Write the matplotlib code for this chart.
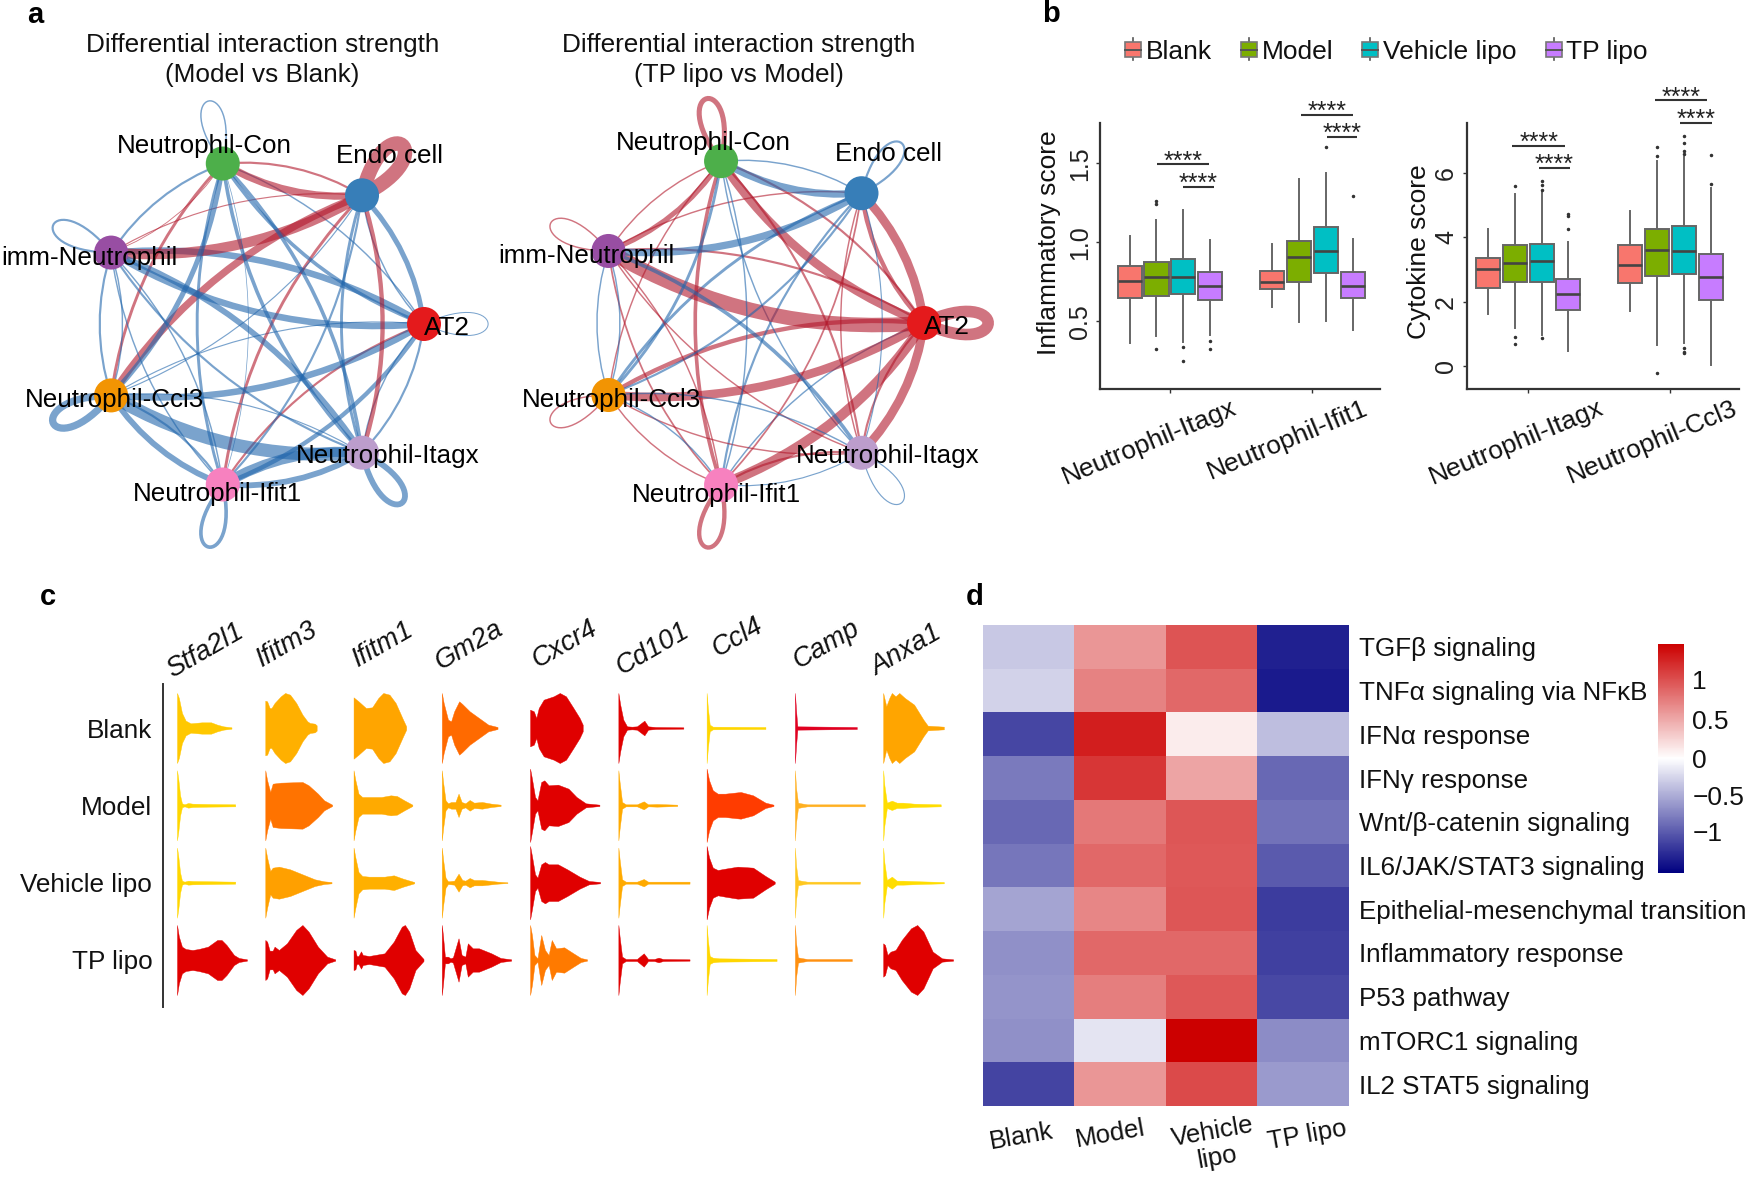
import numpy as np
import matplotlib
matplotlib.use("Agg")
import matplotlib.pyplot as plt
from matplotlib.path import Path
from matplotlib.patches import PathPatch, Circle, Rectangle
from matplotlib.colors import LinearSegmentedColormap, TwoSlopeNorm

plt.rcParams['font.family'] = ['Liberation Sans', 'DejaVu Sans']

# ---------- data ----------
cell_types = ['AT2', 'Endo cell', 'Neutrophil-Con', 'imm-Neutrophil', 'Neutrophil-Ccl3', 'Neutrophil-Ifit1', 'Neutrophil-Itagx']
node_colors = ['#E41A1C', '#377EB8', '#4DAF4A', '#984EA3', '#F29403', '#F781BF', '#BC9DCC']
# signed strength: row -> column; positive = increased (red), negative = decreased (blue)
strength_model_blank = [
    [-0.7, -3.5, -1.0, -4.5, -0.8, 1.5, -1.0],
    [-1.0, 10.0, 1.5, 0.8, 5.0, 2.0, -2.0],
    [-2.5, 5.0, -1.0, -1.5, 2.0, -2.0, -2.5],
    [-4.5, 7.0, 0.6, -1.5, -1.5, -1.0, -1.5],
    [-4.5, -0.8, -3.5, -1.0, -5.0, -4.0, -9.0],
    [-3.0, -1.5, -0.5, -1.0, -1.5, -2.5, -4.0],
    [-1.5, 3.0, -2.5, -4.0, -0.8, -7.0, -4.0],
]
strength_tp_model = [
    [8.0, 6.0, 1.5, 1.5, 3.0, -1.0, 1.5],
    [3.0, -1.5, -1.0, 1.0, -2.0, -1.5, 1.0],
    [6.0, -5.0, 3.5, 1.0, 1.0, 2.5, -1.0],
    [10.0, -5.0, 3.5, 1.0, -1.0, 1.2, 1.0],
    [6.0, -1.5, -2.0, -1.0, 1.0, 1.0, 1.0],
    [7.0, 1.2, -1.0, 1.0, -1.0, 3.0, -0.8],
    [6.0, -0.8, 1.5, -2.5, -1.0, 1.5, -0.8],
]

groups = ['Blank', 'Model', 'Vehicle lipo', 'TP lipo']
box_colors = ['#F8766D', '#7CAE00', '#00BFC4', '#C77CFF']
infl_categories = ['Neutrophil-Itagx', 'Neutrophil-Ifit1']
infl_whislo = [.363, .41, .368, .416, .59, .498, .50, .447]
infl_q1 = [.651, .658, .674, .634, .704, .748, .809, .651]
infl_med = [.756, .784, .779, .725, .752, .908, .945, .725]
infl_q3 = [.851, .878, .893, .811, .821, 1.01, 1.097, .813]
infl_whishi = [1.04, 1.14, 1.204, 1.015, .987, 1.403, 1.44, 1.019]
infl_fliers = [[], [.328, 1.26, 1.24], [.336, .252], [.374, .328], [], [], [1.603], [1.294]]
infl_sig = [(.909, 1.273, 1.492), (1.094, 1.306, 1.351), (1.917, 2.285, 1.807), (2.099, 2.314, 1.666)]
cyto_categories = ['Neutrophil-Itagx', 'Neutrophil-Ccl3']
cyto_whislo = [1.62, 1.19, .98, .49, 1.72, .65, .72, .03]
cyto_q1 = [2.43, 2.63, 2.63, 1.74, 2.57, 2.79, 2.87, 2.05]
cyto_med = [3.03, 3.22, 3.27, 2.25, 3.15, 3.61, 3.57, 2.78]
cyto_q3 = [3.36, 3.75, 3.78, 2.71, 3.76, 4.27, 4.34, 3.47]
cyto_whishi = [4.27, 5.36, 5.44, 3.85, 4.81, 6.37, 6.49, 5.52]
cyto_fliers = [[], [.91, .69, 5.6], [.88, 5.74, 5.62, 5.46], [4.25, 4.74, 4.66], [],
               [-.19, 6.8, 6.53], [.57, .46, .43, 7.13, 6.93, 6.68, 6.6], [6.54, 5.65]]
cyto_sig = [(.889, 1.261, 6.845), (1.075, 1.293, 6.155), (1.889, 2.257, 8.247), (2.068, 2.29, 7.546)]

genes = ['Stfa2l1', 'Ifitm3', 'Ifitm1', 'Gm2a', 'Cxcr4', 'Cd101', 'Ccl4', 'Camp', 'Anxa1']
# per gene, per group: (expression, density) outline points
violin_Stfa2l1 = [
    [(0,105),(3,90),(8,45),(14,22),(22,14),(40,17),(55,17),(65,10),(75,5),(88,2)],
    [(0,105),(2,80),(5,30),(8,6),(12,3),(18,7),(25,5),(50,4),(94,3)],
    [(0,105),(2,80),(5,30),(8,6),(12,3),(18,6),(25,5),(94,3)],
    [(0,105),(3,70),(8,40),(14,33),(25,30),(35,33),(50,40),(65,60),(72,60),(80,45),(92,15),(100,6),(113,2)]]
violin_Ifitm3 = [
    [(0,82),(3,80),(7,60),(10,60),(15,75),(25,95),(32,105),(40,100),(50,75),(60,40),(68,20),(72,15),(80,13),(83,8)],
    [(0,105),(3,75),(8,40),(12,65),(25,68),(60,70),(70,60),(85,35),(95,15),(105,5),(108,2)],
    [(0,105),(3,75),(8,35),(12,45),(22,48),(40,40),(60,25),(80,10),(95,4),(107,2)],
    [(0,60),(3,55),(7,28),(12,28),(15,40),(22,30),(35,50),(50,90),(60,105),(70,85),(85,40),(100,10),(113,2)]]
violin_Ifitm1 = [
    [(0,92),(8,80),(20,60),(30,62),(40,90),(48,105),(58,100),(68,75),(80,25),(85,5)],
    [(0,105),(3,75),(8,35),(14,25),(25,25),(45,25),(60,30),(70,28),(82,15),(95,2)],
    [(0,105),(3,75),(8,32),(14,20),(25,18),(50,18),(65,22),(80,12),(98,2)],
    [(0,30),(3,28),(5,12),(8,12),(12,26),(15,15),(25,12),(50,20),(65,55),(78,100),(83,105),(90,85),(100,30),(113,3)]]
violin_Gm2a = [
    [(0,105),(3,75),(10,25),(15,20),(20,50),(28,80),(33,72),(45,50),(60,30),(75,10),(90,3)],
    [(0,105),(2,70),(6,15),(10,6),(15,10),(22,10),(27,35),(32,10),(38,6),(45,16),(52,8),(65,10),(80,5),(95,2)],
    [(0,105),(2,70),(6,15),(10,4),(20,6),(27,27),(33,8),(38,6),(45,14),(52,8),(65,8),(90,3),(106,1)],
    [(0,105),(2,70),(5,10),(10,10),(14,5),(18,8),(27,65),(32,15),(38,10),(42,50),(50,35),(60,35),(80,20),(95,6),(112,2)]]
violin_Cxcr4 = [
    [(0,55),(6,50),(10,30),(14,60),(22,85),(30,90),(38,95),(48,105),(58,95),(70,60),(80,30),(85,10)],
    [(0,110),(3,80),(8,25),(12,15),(18,70),(23,75),(30,60),(45,62),(62,50),(75,25),(90,6),(112,2)],
    [(0,110),(3,80),(8,25),(12,15),(18,55),(24,62),(30,55),(45,55),(60,40),(80,18),(95,5),(113,2)],
    [(0,105),(3,75),(7,15),(12,5),(18,75),(24,30),(30,15),(35,60),(42,35),(55,38),(70,20),(82,6),(92,2)]]
violin_Cd101 = [
    [(0,105),(3,70),(8,25),(14,5),(22,4),(30,5),(42,22),(48,5),(60,3),(105,2)],
    [(0,105),(2,70),(6,10),(12,3),(30,3),(41,12),(48,3),(62,4),(95,2)],
    [(0,105),(2,70),(6,10),(12,3),(30,3),(41,11),(48,3),(60,3),(115,3)],
    [(0,105),(2,70),(6,10),(12,3),(30,3),(41,20),(48,3),(58,3),(65,7),(72,3),(115,2)]]
violin_Ccl4 = [
    [(0,105),(2,60),(5,10),(10,4),(95,3)],
    [(0,110),(4,75),(10,45),(18,35),(30,35),(55,40),(75,30),(95,8),(108,2)],
    [(0,110),(4,75),(10,45),(18,38),(30,42),(50,48),(75,45),(95,20),(110,3)],
    [(0,105),(2,60),(5,12),(10,7),(20,5),(113,3)]]
violin_Camp = [
    [(0,105),(2,50),(4,5),(100,3)],
    [(0,105),(2,50),(5,8),(10,6),(20,3),(113,3)],
    [(0,105),(2,50),(5,8),(10,6),(20,3),(105,3)],
    [(0,105),(2,50),(5,8),(10,6),(20,3),(92,3)]]
violin_Anxa1 = [
    [(0,105),(5,65),(10,90),(14,105),(20,95),(26,105),(35,90),(50,70),(65,25),(72,7),(98,4)],
    [(0,105),(2,60),(6,8),(14,14),(22,8),(32,8),(50,5),(93,3)],
    [(0,105),(2,60),(6,8),(14,18),(22,6),(32,6),(60,4),(98,2)],
    [(0,50),(3,45),(7,15),(12,25),(20,30),(30,60),(45,95),(55,105),(65,85),(80,25),(95,5),(113,2)]]
violin_profiles = [violin_Stfa2l1, violin_Ifitm3, violin_Ifitm1, violin_Gm2a, violin_Cxcr4,
                   violin_Cd101, violin_Ccl4, violin_Camp, violin_Anxa1]
violin_colors = [
    ['#FFC800', '#FFB000', '#FFA500', '#FF6A00', '#E00000', '#E00000', '#FFD600', '#E00020', '#FFA500'],
    ['#FFD600', '#FF7300', '#FFAA00', '#FFAA00', '#E00000', '#FFAA00', '#FF3C00', '#FFB020', '#FFDD00'],
    ['#FFD600', '#FFA000', '#FFB000', '#FFAA00', '#E00000', '#FFAA00', '#E00000', '#FFC820', '#FFDD00'],
    ['#E00000', '#E00000', '#E00000', '#E00000', '#FF7A00', '#E00000', '#FFD600', '#FF9010', '#E00000'],
]

pathways = ['TGFβ signaling', 'TNFα signaling via NFκB', 'IFNα response', 'IFNγ response',
            'Wnt/β-catenin signaling', 'IL6/JAK/STAT3 signaling', 'Epithelial-mesenchymal transition',
            'Inflammatory response', 'P53 pathway', 'mTORC1 signaling', 'IL2 STAT5 signaling']
heat_columns = ['Blank', 'Model', 'Vehicle\nlipo', 'TP lipo']
heat_blank = [-.34, -.27, -1.12, -.81, -.92, -.83, -.55, -.67, -.65, -.68, -1.14]
heat_model = [.60, .72, 1.29, 1.15, .77, .86, .69, .86, .74, -.16, .60]
heat_vehicle = [.98, .86, .11, .52, .97, .95, .97, .86, .96, 1.46, 1.03]
heat_tp = [-1.36, -1.39, -.40, -.92, -.86, -1.0, -1.19, -1.16, -1.11, -.70, -.61]

# ---------- layout helpers ----------
W, H = 1747, 1178
fig = plt.figure(figsize=(W / 100, H / 100), dpi=100, facecolor='white')

def ax_px(l, t, r, b, **kw):
    return fig.add_axes([l / W, 1 - b / H, (r - l) / W, (b - t) / H], **kw)

ov = fig.add_axes([0, 0, 1, 1], zorder=5)
ov.set_xlim(0, W); ov.set_ylim(H, 0); ov.axis('off'); ov.patch.set_alpha(0)

PX = 72 / 100 * 1.45
RED, BLUE = '#B2182B', '#2166AC'

label_offsets = [(23, 4), (27, -39), (-18, -18), (-22, 5), (3, 5), (-5, 10), (26, 3)]

def network(cx, cy, r, strength, title):
    strength = np.array(strength, float)
    n = len(cell_types)
    ang = 2 * np.pi * np.arange(n) / n
    xy = np.c_[cx + r * np.cos(ang), cy - r * np.sin(ang)]
    for i in range(n):
        for j in range(n):
            v = strength[i, j]
            if v == 0:
                continue
            col = RED if v > 0 else BLUE
            if i == j:
                u = np.array([np.cos(ang[i]), -np.sin(ang[i])])
                p = np.array([-u[1], u[0]])
                L = 57
                c1 = xy[i] + L * 1.5 * u + 40 * p
                c2 = xy[i] + L * 1.5 * u - 40 * p
                path = Path([xy[i], c1, c2, xy[i]], [Path.MOVETO, Path.CURVE4, Path.CURVE4, Path.CURVE4])
            else:
                d = xy[j] - xy[i]
                ctrl = (xy[i] + xy[j]) / 2 + 0.16 * np.array([-d[1], d[0]])
                path = Path([xy[i], ctrl, xy[j]], [Path.MOVETO, Path.CURVE3, Path.CURVE3])
            ov.add_patch(PathPatch(path, fc='none', ec=col, lw=abs(v) * PX, alpha=0.6, capstyle='butt', zorder=2))
    for i in range(n):
        ov.add_patch(Circle(xy[i], 17, fc=node_colors[i], ec='none', zorder=3))
        ov.text(xy[i, 0] + label_offsets[i][0], xy[i, 1] + label_offsets[i][1], cell_types[i],
                fontsize=18.7, ha='center', va='center', color='black', zorder=4)
    ov.text(cx + 3 - (0 if cx < 500 else 22), 60, title, fontsize=18.8, ha='center', va='center',
            linespacing=1.3, color='#111111')

network(259.4, 324, 164.6, strength_model_blank, 'Differential interaction strength\n(Model vs Blank)')
network(758, 323, 166, strength_tp_model, 'Differential interaction strength\n(TP lipo vs Model)')

# ---------- boxplots ----------
def boxes(rect, ylim, xlim, cats, lo, q1, med, q3, hi, fliers, sig, yticks, yticklabels, ylabel, lab_xy, cat_dx):
    ax = ax_px(*rect)
    n = len(lo)
    stats, pos = [], []
    for k in range(n):
        stats.append(dict(whislo=lo[k], q1=q1[k], med=med[k], q3=q3[k], whishi=hi[k], fliers=fliers[k]))
        pos.append((k // 4 + 1) + (k % 4 - 1.5) * 0.189)
    b = ax.bxp(stats, positions=pos, widths=0.169, patch_artist=True, showcaps=False, manage_ticks=False,
               flierprops=dict(marker='o', ms=1.5, mfc='#333333', mec='#333333', ls='none'),
               boxprops=dict(edgecolor='#666666', lw=1.4), whiskerprops=dict(color='#666666', lw=1.4),
               medianprops=dict(color='#444444', lw=1.9))
    for k, p in enumerate(b['boxes']):
        p.set_facecolor(box_colors[k % 4])
    ax.set_xlim(*xlim); ax.set_ylim(*ylim)
    for s in ('top', 'right'):
        ax.spines[s].set_visible(False)
    for s in ('left', 'bottom'):
        ax.spines[s].set_linewidth(1.6); ax.spines[s].set_color('#333333')
    ax.set_yticks(yticks); ax.set_yticklabels(yticklabels, rotation=90, va='center', fontsize=18, color='#222222')
    ax.set_xticks([1, 2]); ax.set_xticklabels([])
    ax.tick_params(length=3, width=1, color='#333333', pad=3)
    ax.set_ylabel(ylabel, fontsize=19, color='#111111')
    ax.yaxis.set_label_coords(*lab_xy)
    for c, cat in enumerate(cats):
        ax.annotate(cat, xy=(c + 1, 0), xycoords=ax.get_xaxis_transform(), xytext=(cat_dx[c], -7),
                    textcoords='offset pixels', rotation=22.5, ha='right', va='top',
                    rotation_mode='anchor', fontsize=19, color='#111111', annotation_clip=False)
    for x0, x1, y in sig:
        ax.plot([x0, x1], [y, y], color='#333333', lw=1.5, clip_on=False, solid_capstyle='butt')
        ax.annotate('****', xy=((x0 + x1) / 2, y), xytext=(0, -9), textcoords='offset pixels', ha='center',
                    va='bottom', fontsize=18, color='#222222', annotation_clip=False)
    return ax

boxes((1100, 123, 1380, 389), (0.0735, 1.754), (0.509, 2.474), infl_categories, infl_whislo, infl_q1, infl_med,
      infl_q3, infl_whishi, infl_fliers, infl_sig, [0.5, 1.0, 1.5], ['0.5', '1.0', '1.5'], 'Inflammatory score',
      (-0.139, 0.549), (61, 50))
boxes((1466.5, 123, 1738.6, 389), (-0.701, 7.546), (0.567, 2.48), cyto_categories, cyto_whislo, cyto_q1, cyto_med,
      cyto_q3, cyto_whishi, cyto_fliers, cyto_sig, [0, 2, 4, 6], ['0', '2', '4', '6'], 'Cytokine score',
      (-0.13, 0.515), (70, 61))

# legend
for g, c, kx, tx in zip(groups, box_colors, (1133, 1249.5, 1370, 1554), (1146, 1262, 1383, 1566)):
    ov.plot([kx, kx], [38, 60], color='#555555', lw=1.2, zorder=3)
    ov.add_patch(Rectangle((kx - 8, 42), 16, 15, fc=c, ec='#777777', lw=1.2, zorder=4))
    ov.plot([kx - 8, kx + 8], [49.5, 49.5], color='#555555', lw=1.4, zorder=5)
    ov.text(tx, 52, g, fontsize=19, ha='left', va='center', color='#111111')

# ---------- violins ----------
vax = ax_px(163.4, 684, 965, 1007)
vax.set_xlim(-22, 1273); vax.set_ylim((1007 - 728) * 3, (684 - 728) * 3)
for g, gene in enumerate(genes):
    for r in range(len(groups)):
        prof = np.array(violin_profiles[g][r], float)
        x0 = 142.6 * g
        y0 = 232 * r
        xx = x0 + prof[:, 0]
        vax.fill_between(xx, y0 - prof[:, 1], y0 + prof[:, 1], color=violin_colors[r][g], lw=0.3)
for s in ('top', 'right', 'bottom'):
    vax.spines[s].set_visible(False)
vax.spines['left'].set_linewidth(1.4); vax.spines['left'].set_color('#333333')
vax.set_xticks([])
vax.set_yticks([232 * r for r in range(4)]); vax.set_yticklabels(groups, fontsize=18.8, color='#111111')
vax.tick_params(length=0, pad=8)
vax.patch.set_alpha(0)
gene_xy = [(167, 678), (257, 667), (353, 667), (436, 670), (533, 668), (617, 675), (713, 657), (794, 669), (871, 676)]
for gene, (gx, gy) in zip(genes, gene_xy):
    ov.text(gx + 5, gy, gene, fontsize=19.5, style='italic', rotation=30, rotation_mode='anchor',
            ha='left', va='baseline', color='#111111')

# ---------- heatmap ----------
hax = ax_px(982.6, 625, 1349, 1106)
matrix = np.array([heat_blank, heat_model, heat_vehicle, heat_tp]).T
cmap = LinearSegmentedColormap.from_list('nwr', ['#000080', '#FFFFFF', '#CC0000'])
norm = TwoSlopeNorm(vmin=-1.558, vcenter=0, vmax=1.464)
mesh = hax.pcolormesh(matrix, cmap=cmap, norm=norm)
hax.invert_yaxis()
hax.yaxis.tick_right()
hax.set_yticks(np.arange(len(pathways)) + 0.5); hax.set_yticklabels(pathways, fontsize=18.7, color='#111111')
hax.tick_params(length=0, pad=7)
hax.set_xticks([])
for s in hax.spines.values():
    s.set_visible(False)
col_xy = [(1021, 1137), (1110, 1134), (1215, 1145), (1307, 1135)]
for lab, (cx_, cy_) in zip(heat_columns, col_xy):
    ov.text(cx_, cy_, lab, fontsize=18.5, rotation=10, ha='center', va='center', linespacing=1.1, color='#111111')

cax = ax_px(1657.8, 643.6, 1684, 873)
cb = fig.colorbar(mesh, cax=cax)
cb.set_ticks([-1, -0.5, 0, 0.5, 1]); cb.set_ticklabels(['−1', '−0.5', '0', '0.5', '1'])
cb.ax.tick_params(length=0, labelsize=19, pad=6, labelcolor='#111111')
cb.outline.set_visible(False)

# ---------- panel letters ----------
for t, x, y in (('a', 35, 15), ('b', 1051, 14), ('c', 48, 597), ('d', 975, 597)):
    ov.text(x, y, t, fontsize=21, fontweight='bold', ha='center', va='center', color='black')

fig.savefig('out.png', dpi=100)
